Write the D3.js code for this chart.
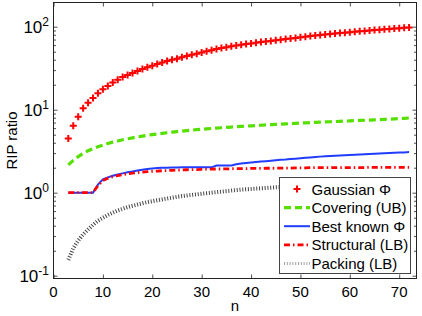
<!DOCTYPE html>
<html>
<head>
<meta charset="utf-8">
<script src="https://cdnjs.cloudflare.com/ajax/libs/d3/7.8.5/d3.min.js"></script>
<style>
body { margin: 0; background: #fff; }
text { font-family: "Liberation Sans", Arial, sans-serif; fill: #000; }
</style>
</head>
<body>
<script>
// n values (x axis)
const nVals = [3, 4, 5, 6, 7, 8, 9, 10, 11, 12, 13, 14, 15, 16, 17, 18, 19, 20, 21, 22,
    23, 24, 25, 26, 27, 28, 29, 30, 31, 32, 33, 34, 35, 36, 37, 38, 39, 40, 41, 42,
    43, 44, 45, 46, 47, 48, 49, 50, 51, 52, 53, 54, 55, 56, 57, 58, 59, 60, 61, 62,
    63, 64, 65, 66, 67, 68, 69, 70, 71, 72];

const gaussian = [4.5, 6.4, 8.2, 10.4, 12.1, 13.8, 15.8, 17.6, 19.3, 21.2, 23.0, 24.8, 26.1, 27.6, 29.3, 30.9, 32.4, 33.9, 35.6, 37.1,
    38.6, 40.0, 41.2, 42.9, 44.5, 45.9, 47.3, 49.0, 50.7, 52.2, 53.7, 55.2, 56.7, 58.0, 59.5, 60.7, 61.9, 62.8, 64.0, 65.3,
    66.2, 67.4, 68.6, 69.8, 71.0, 72.3, 73.2, 74.6, 75.8, 77.0, 78.1, 79.2, 80.4, 81.5, 82.6, 83.8, 84.8, 85.9, 86.9, 88.0,
    89.0, 90.0, 91.0, 92.0, 93.0, 94.0, 95.0, 96.0, 97.0, 98.0];

const covering = [2.16, 2.45, 2.72, 2.97, 3.2, 3.4, 3.58, 3.75, 3.92, 4.07, 4.2, 4.34, 4.46, 4.58, 4.7, 4.81, 4.91, 5.01, 5.1, 5.19,
    5.28, 5.36, 5.44, 5.52, 5.6, 5.67, 5.74, 5.81, 5.87, 5.94, 6.0, 6.06, 6.12, 6.18, 6.23, 6.29, 6.34, 6.39, 6.45, 6.5,
    6.55, 6.6, 6.65, 6.7, 6.75, 6.8, 6.85, 6.9, 6.94, 6.98, 7.03, 7.07, 7.12, 7.16, 7.2, 7.25, 7.29, 7.33, 7.38, 7.42,
    7.46, 7.5, 7.55, 7.6, 7.65, 7.7, 7.75, 7.8, 7.87, 7.95];

const bestKnown = [1.0, 1.0, 1.0, 1.0, 1.0, 1.0, 1.25, 1.45, 1.53, 1.6, 1.66, 1.71, 1.76, 1.8, 1.85, 1.89, 1.93, 1.96, 1.98, 2.0,
    2.0, 2.01, 2.01, 2.02, 2.02, 2.02, 2.02, 2.02, 2.02, 2.02, 2.12, 2.13, 2.13, 2.13, 2.2, 2.25, 2.28, 2.31, 2.34, 2.37,
    2.4, 2.43, 2.46, 2.49, 2.51, 2.54, 2.57, 2.6, 2.63, 2.66, 2.69, 2.72, 2.74, 2.76, 2.78, 2.8, 2.82, 2.84, 2.86, 2.88,
    2.9, 2.92, 2.94, 2.96, 2.98, 3.0, 3.02, 3.04, 3.06, 3.09];

const structural = [1.0, 1.0, 1.0, 1.0, 1.0, 1.0, 1.22, 1.4, 1.49, 1.56, 1.61, 1.65, 1.69, 1.72, 1.75, 1.77, 1.79, 1.81, 1.82, 1.84,
    1.85, 1.86, 1.87, 1.88, 1.89, 1.9, 1.9, 1.91, 1.92, 1.92, 1.93, 1.93, 1.94, 1.94, 1.95, 1.95, 1.95, 1.96, 1.96, 1.96,
    1.97, 1.97, 1.97, 1.98, 1.98, 1.98, 1.99, 1.99, 1.99, 2.0, 2.0, 2.0, 2.0, 2.0, 2.01, 2.01, 2.01, 2.01, 2.01, 2.01,
    2.01, 2.02, 2.02, 2.02, 2.02, 2.02, 2.02, 2.02, 2.02, 2.02];

const packing = [0.155, 0.214, 0.265, 0.315, 0.36, 0.41, 0.46, 0.5, 0.54, 0.575, 0.61, 0.64, 0.67, 0.695, 0.72, 0.745, 0.77, 0.79, 0.81, 0.83,
    0.85, 0.87, 0.89, 0.91, 0.925, 0.94, 0.955, 0.97, 0.985, 1.0, 1.015, 1.03, 1.045, 1.06, 1.075, 1.09, 1.1, 1.11, 1.12, 1.13,
    1.14, 1.15, 1.16, 1.17, 1.18, 1.19, 1.2, 1.21, 1.22, 1.23, 1.24, 1.25, 1.26, 1.27, 1.28, 1.29, 1.3, 1.31, 1.32, 1.32,
    1.33, 1.34, 1.35, 1.36, 1.36, 1.37, 1.38, 1.39, 1.39, 1.4];

const xTicks = [0, 10, 20, 30, 40, 50, 60, 70];
const yTickExps = [-1, 0, 1, 2];
const legendLabels = ["Gaussian \u03A6", "Covering (UB)", "Best known \u03A6", "Structural (LB)", "Packing (LB)"];

const svgWidth = 422, svgHeight = 316;
const plotLeft = 53.5, plotRight = 416.5, plotTop = 2.5, plotBottom = 278.5;

const svg = d3.select("body")
    .append("svg")
    .attr("width", svgWidth)
    .attr("height", svgHeight);

const xScale = d3.scaleLinear()
    .domain([0, 73.5])
    .range([plotLeft, plotRight]);

const yScale = d3.scaleLog()
    .domain([0.0925, 195.7])
    .range([plotBottom, plotTop]);

// line styles
const styles = [
    null,
    { color: "#55e000", width: 3.2, dash: "7,4" },
    { color: "#1f3cff", width: 2, dash: null },
    { color: "#ff0000", width: 2.8, dash: "6,3,1.5,3" },
    { color: "#444", width: 4, dash: "1,1.8" }
];

const series = [gaussian, covering, bestKnown, structural, packing];

const line = d3.line()
    .x((d, i) => xScale(nVals[i]))
    .y(d => yScale(d));

// lines (drawn in legend order, later on top)
for (let s = 1; s < series.length; s++) {
    const st = styles[s];
    svg.append("path")
        .attr("d", line(series[s]))
        .attr("fill", "none")
        .attr("stroke", st.color)
        .attr("stroke-width", st.width)
        .attr("stroke-dasharray", st.dash);
}

// gaussian '+' markers
const plus = "M-3.5,0H3.5M0,-3.5V3.5";
svg.selectAll(".gm")
    .data(gaussian)
    .enter()
    .append("path")
    .attr("class", "gm")
    .attr("d", plus)
    .attr("transform", (d, i) => `translate(${xScale(nVals[i])},${yScale(d)})`)
    .attr("stroke", "#ff0000")
    .attr("stroke-width", 2)
    .attr("fill", "none");

// axes box
const axisColor = "#222";
const xAxisB = d3.axisBottom(xScale).tickValues(xTicks).tickSize(-4).tickFormat("");
const xAxisT = d3.axisTop(xScale).tickValues(xTicks).tickSize(-4).tickFormat("");
svg.append("g").attr("transform", `translate(0,${plotBottom})`).call(xAxisB);
svg.append("g").attr("transform", `translate(0,${plotTop})`).call(xAxisT);

const minorVals = [];
for (let e = -2; e <= 2; e++) {
    for (let m = 2; m <= 9; m++) {
        const v = m * Math.pow(10, e);
        if (v > 0.0925 && v < 195.7) minorVals.push(v);
    }
}
const majorVals = yTickExps.map(e => Math.pow(10, e));

svg.append("g").attr("transform", `translate(${plotLeft},0)`)
    .call(d3.axisLeft(yScale).tickValues(majorVals).tickSize(-4).tickFormat(""));
svg.append("g").attr("transform", `translate(${plotLeft},0)`)
    .call(d3.axisLeft(yScale).tickValues(minorVals).tickSize(-2.5).tickFormat(""));
svg.append("g").attr("transform", `translate(${plotRight},0)`)
    .call(d3.axisRight(yScale).tickValues(majorVals).tickSize(-4).tickFormat(""));
svg.append("g").attr("transform", `translate(${plotRight},0)`)
    .call(d3.axisRight(yScale).tickValues(minorVals).tickSize(-2.5).tickFormat(""));

svg.selectAll(".domain").remove();
svg.selectAll(".tick line").attr("stroke", axisColor).attr("stroke-width", 0.8);

svg.append("rect")
    .attr("x", plotLeft).attr("y", plotTop)
    .attr("width", plotRight - plotLeft).attr("height", plotBottom - plotTop)
    .attr("fill", "none")
    .attr("stroke", axisColor)
    .attr("stroke-width", 1);

// tick labels
svg.selectAll(".xl")
    .data(xTicks)
    .enter()
    .append("text")
    .attr("x", d => xScale(d))
    .attr("y", 296.5)
    .attr("text-anchor", "middle")
    .style("font-size", "15px")
    .text(d => d);

const yl = svg.selectAll(".yl")
    .data(yTickExps)
    .enter()
    .append("text")
    .attr("x", 49)
    .attr("y", d => yScale(Math.pow(10, d)) + 6.5)
    .attr("text-anchor", "end")
    .style("font-size", "17px");
yl.append("tspan").text("10");
yl.append("tspan").attr("dy", -7).style("font-size", "12px").text(d => d);

svg.append("text")
    .attr("x", (plotLeft + plotRight) / 2)
    .attr("y", 311)
    .attr("text-anchor", "middle")
    .style("font-size", "15px")
    .text("n");

svg.append("text")
    .attr("transform", `translate(17,${(plotTop + plotBottom) / 2}) rotate(-90)`)
    .attr("text-anchor", "middle")
    .style("font-size", "15px")
    .text("RIP ratio");

// legend
const lg = svg.append("g");
lg.append("rect")
    .attr("x", 279.5).attr("y", 177.5)
    .attr("width", 131).attr("height", 96)
    .attr("fill", "#fff")
    .attr("stroke", "#444")
    .attr("stroke-width", 1);

legendLabels.forEach((lab, i) => {
    const yy = 189 + i * 18.6;
    if (i === 0) {
        lg.append("path")
            .attr("d", plus)
            .attr("transform", `translate(297,${yy})`)
            .attr("stroke", "#ff0000")
            .attr("stroke-width", 2);
    } else {
        const st = styles[i];
        lg.append("line")
            .attr("x1", 284).attr("x2", 310)
            .attr("y1", yy).attr("y2", yy)
            .attr("stroke", st.color)
            .attr("stroke-width", i === 4 ? 3 : st.width)
            .attr("stroke-dasharray", st.dash)
            .attr("opacity", i === 4 ? 0.5 : 1);
    }
    lg.append("text")
        .attr("x", 311.5)
        .attr("y", yy + 5.5)
        .style("font-size", "15px")
        .text(lab);
});
</script>
</body>
</html>
